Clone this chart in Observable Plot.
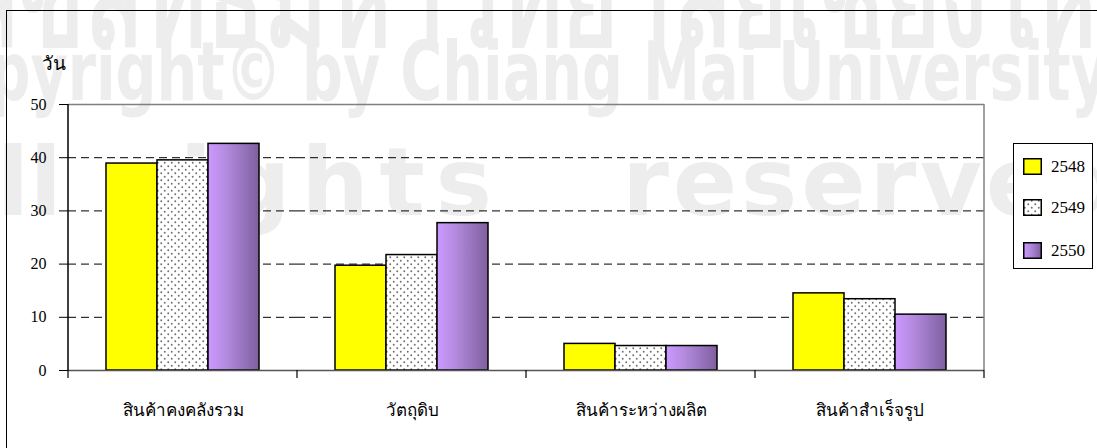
<!DOCTYPE html>
<html>
<head>
<meta charset="utf-8">
<script src="https://cdn.jsdelivr.net/npm/d3@7"></script>
<script src="https://cdn.jsdelivr.net/npm/@observablehq/plot@0.6"></script>
<style>
  html, body { margin: 0; padding: 0; background: #fff; }
  #wrap { position: relative; width: 1097px; height: 448px; overflow: hidden; }
  #wm { position: absolute; left: 0; top: 0; }
  #border { position: absolute; left: 6px; top: 10px; right: -5px; bottom: -5px; border-left: 1.5px solid #000; border-top: 1.5px solid #000; }
  #chart { position: absolute; left: 0; top: 0; }
  #ylabel { position: absolute; left: 42px; top: 48px; font: 19px "Liberation Serif", serif; color: #000; }
  #legend { position: absolute; left: 1013px; top: 143px; width: 78px; height: 124px; border: 1px solid #000; background: #fff; font: 17px "Liberation Serif", serif; }
  .row { position: absolute; left: 9px; height: 17px; display: flex; align-items: center; }
  .row svg { display: block; }
  .row span { margin-left: 9px; }
</style>
</head>
<body>
<div id="wrap">
  <svg id="wm" width="1097" height="448"></svg>
  <div id="border"></div>
  <div id="chart"></div>
  <div id="ylabel">วัน</div>
  <div id="legend"></div>
</div>
<script>
// ---- data ----
const categories = ["สินค้าคงคลังรวม", "วัตถุดิบ", "สินค้าระหว่างผลิต", "สินค้าสำเร็จรูป"];
const years = ["2548", "2549", "2550"];
const values2548 = [38.9, 19.7, 5.0, 14.5];
const values2549 = [39.5, 21.7, 4.6, 13.4];
const values2550 = [42.6, 27.7, 4.6, 10.5];
const yTicks = [0, 10, 20, 30, 40, 50];
const gridValues = [10, 20, 30, 40];
const yLabel = "วัน";
const watermarkThai = "ลิขสิทธิ์มหาวิทยาลัยเชียงใหม่";
const watermarkCopyright = "Copyright© by Chiang Mai University";
const watermarkRights = ["All", "rights", "reserved"];

const seriesValues = [values2548, values2549, values2550];
const data = categories.flatMap((c, i) => years.map((yr, j) => ({category: c, year: yr, value: seriesValues[j][i]})));
const fills = ["#ffff00", "url(#dots)", "url(#grad)"];

// ---- watermark ----
const wm = d3.select("#wm");
const wmText = (x, y, size, txt) => wm.append("text").attr("x", x).attr("y", y).attr("font-size", size)
  .attr("fill", "#ededed").attr("font-weight", "bold").attr("font-family", "'DejaVu Sans', sans-serif").text(txt);
wmText(-40, 45, 130, watermarkThai).attr("textLength", 1200).attr("lengthAdjust", "spacingAndGlyphs");
wmText(-92, 100, 82, watermarkCopyright).attr("textLength", 1200).attr("lengthAdjust", "spacingAndGlyphs");
wmText(62, 215, 95, watermarkRights[0]).attr("text-anchor", "end");
wmText(122, 215, 95, watermarkRights[1]).attr("textLength", 370).attr("lengthAdjust", "spacing");
wmText(622, 215, 95, watermarkRights[2]).attr("textLength", 500).attr("lengthAdjust", "spacing");

// ---- defs mark ----
function defs() {
  const g = d3.create("svg:defs");
  const p = g.append("pattern").attr("id", "dots").attr("patternUnits", "userSpaceOnUse").attr("width", 7).attr("height", 7);
  p.append("rect").attr("width", 7).attr("height", 7).attr("fill", "#fff");
  p.append("circle").attr("cx", 1.75).attr("cy", 1.75).attr("r", 0.95).attr("fill", "#6e6e6e");
  p.append("circle").attr("cx", 5.25).attr("cy", 5.25).attr("r", 0.95).attr("fill", "#6e6e6e");
  const lg = g.append("linearGradient").attr("id", "grad").attr("x1", 0).attr("x2", 1).attr("y1", 0).attr("y2", 0);
  lg.append("stop").attr("offset", "0%").attr("stop-color", "#cc99ff");
  lg.append("stop").attr("offset", "35%").attr("stop-color", "#b48be0");
  lg.append("stop").attr("offset", "100%").attr("stop-color", "#7f5f9f");
  return g.node();
}

const plot = Plot.plot({
  width: 1097,
  height: 448,
  marginTop: 104,
  marginBottom: 78,
  marginLeft: 66,
  marginRight: 112,
  style: {fontFamily: "'Liberation Serif', serif", background: "transparent", overflow: "visible"},
  fx: {domain: categories, padding: 0, label: null},
  x: {domain: years, paddingInner: 0, paddingOuter: 0.74, axis: null},
  y: {domain: [0, 50], axis: null},
  color: {domain: years, range: fills},
  marks: [
    defs,
    Plot.ruleY(gridValues, {stroke: "#000", strokeWidth: 1, strokeDasharray: "8,5"}),
    Plot.ruleY([50], {stroke: "#808080", strokeWidth: 1.5}),
    Plot.barY(data, {fx: "category", x: "year", y: "value", fill: "year", stroke: "#000", strokeWidth: 1.5}),
    Plot.ruleY([0], {stroke: "#555", strokeWidth: 1.5}),
    Plot.axisY({ticks: yTicks, tickSize: 9, tickPadding: 13, fontSize: 16, label: null, stroke: "#000"}),
    Plot.axisFx({anchor: "bottom", tickSize: 0, tickPadding: 33, fontSize: 17, label: null})
  ]
});
document.getElementById("chart").appendChild(plot);

// lines drawn from the library's scales: y-axis line, right border, category boundary ticks
const fx = plot.scale("fx");
const ys = plot.scale("y");
const left = fx.apply(categories[0]);
const right = fx.apply(categories[categories.length - 1]) + fx.bandwidth;
const y0 = ys.apply(0), y50 = ys.apply(50);
const svg = d3.select(plot);
const g = svg.append("g");
g.append("line").attr("x1", left).attr("x2", left).attr("y1", y50).attr("y2", y0).attr("stroke", "#000").attr("stroke-width", 1.5);
g.append("line").attr("x1", right).attr("x2", right).attr("y1", y50).attr("y2", y0).attr("stroke", "#808080").attr("stroke-width", 1.5);
const bounds = categories.map(c => fx.apply(c)).concat([right]);
g.selectAll("line.b").data(bounds).join("line").attr("class", "b")
  .attr("x1", d => d).attr("x2", d => d).attr("y1", y0).attr("y2", y0 + 8).attr("stroke", "#000").attr("stroke-width", 1.2);

// ---- legend ----
const legend = d3.select("#legend");
const rowTops = [14, 55, 98];
years.forEach((yr, j) => {
  const row = legend.append("div").attr("class", "row").style("top", rowTops[j] + "px");
  const s = row.append("svg").attr("width", 19).attr("height", 17);
  s.append("rect").attr("x", 0.75).attr("y", 0.75).attr("width", 17.5).attr("height", 15.5).attr("fill", fills[j]).attr("stroke", "#000").attr("stroke-width", 1.5);
  row.append("span").text(yr);
});
</script>
</body>
</html>
